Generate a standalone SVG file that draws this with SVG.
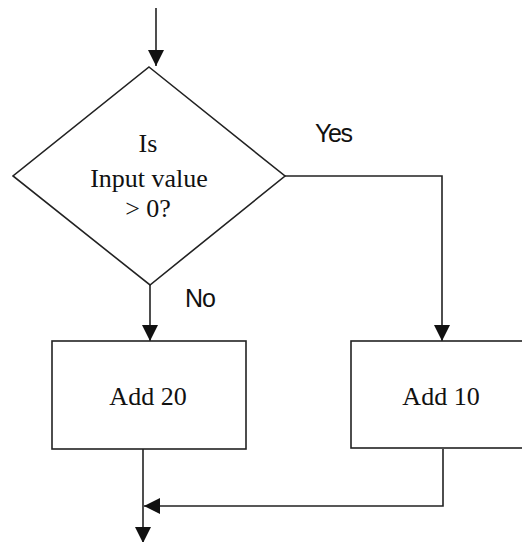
<svg xmlns="http://www.w3.org/2000/svg" width="522" height="542" viewBox="0 0 522 542">
<defs>
<marker id="ah" viewBox="0 0 16 16" refX="16" refY="8" markerWidth="16" markerHeight="16" markerUnits="userSpaceOnUse" orient="auto">
<path d="M0,0 L16,8 L0,16 Z" fill="#111"/>
</marker>
</defs>
<style>
.shape{fill:#fff;stroke:#222;stroke-width:1.6}
.line{fill:none;stroke:#222;stroke-width:1.6}
.serif{font-family:"Liberation Serif","Times New Roman",serif;font-size:26px;fill:#111;text-anchor:middle}
.sans{font-family:"Liberation Sans",Arial,sans-serif;font-size:25px;fill:#111}
</style>
<rect width="522" height="542" fill="#fff"/>
<g id="connectors">
<path class="line" d="M156,8 V66" marker-end="url(#ah)"/>
<path class="line" d="M150,285 V341" marker-end="url(#ah)"/>
<path class="line" d="M285,176 H442 V341" marker-end="url(#ah)"/>
<path class="line" d="M443,449 V506 H144" marker-end="url(#ah)"/>
<path class="line" d="M143,449 V543" marker-end="url(#ah)"/>
</g>
<g id="decision">
<polygon class="shape" points="149,67 285,176 150,285 13,176"/>
<text class="serif" x="148" y="152">Is</text>
<text class="serif" x="149" y="187">Input value</text>
<text class="serif" x="148" y="217">&gt; 0?</text>
</g>
<g id="label-yes"><text class="sans" x="315" y="142" textLength="38">Yes</text></g>
<g id="label-no"><text class="sans" x="185" y="307" textLength="31">No</text></g>
<g id="add20">
<rect class="shape" x="52" y="341" width="194" height="108"/>
<text class="serif" x="148" y="405">Add 20</text>
</g>
<g id="add10">
<rect class="shape" x="351" y="341" width="200" height="107"/>
<text class="serif" x="441" y="405">Add 10</text>
</g>
</svg>
